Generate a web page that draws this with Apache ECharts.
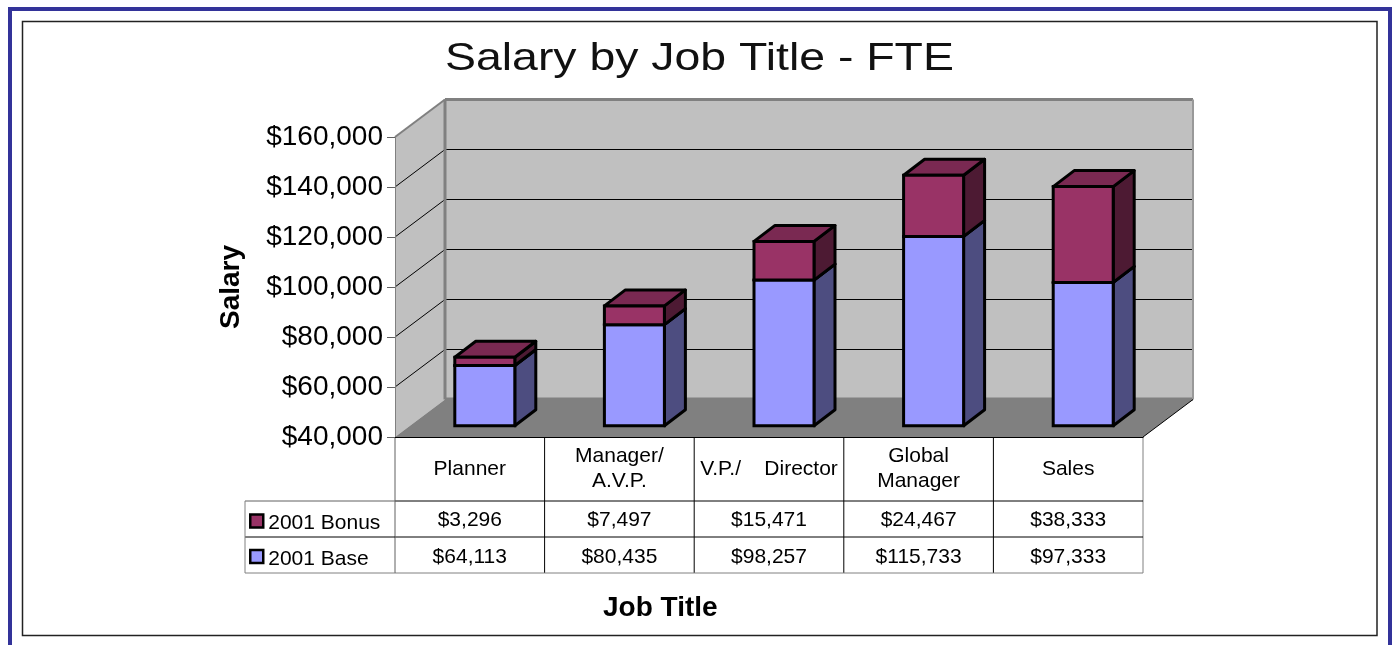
<!DOCTYPE html>
<html>
<head>
<meta charset="utf-8">
<style>html,body{margin:0;padding:0;background:#fff;overflow:hidden}#c{width:1392px;height:645px}</style>
<script src="https://cdn.jsdelivr.net/npm/echarts@6/dist/echarts.min.js"></script>
</head>
<body>
<div id="c"></div>
<script>
const titleText = 'Salary by Job Title - FTE';
const categories = ['Planner', 'Manager/\nA.V.P.', 'V.P./    Director', 'Global\nManager', 'Sales'];
const bonus2001 = [3296, 7497, 15471, 24467, 38333];
const base2001 = [64113, 80435, 98257, 115733, 97333];
const yTicks = [40000, 60000, 80000, 100000, 120000, 140000, 160000];

const FONT = '"Liberation Sans", Arial, sans-serif';
const money = v => '$' + v.toLocaleString('en-US');
const chart = echarts.init(document.getElementById('c'), null, {renderer: 'canvas'});

const DEPTH = [50, -37.5];      // full floor depth
const BAR_OFF = [15, -11.25];   // bar front relative to the axis plane
const BAR_DEPTH = [21, -16];
const BAR_W = 60;

function poly(points, fill, stroke, lw, join) {
  return {type: 'polygon', shape: {points}, style: {fill, stroke: stroke || null, lineWidth: lw || 0, lineJoin: join || 'round'}};
}
function line(a, b, stroke, lw) {
  return {type: 'line', shape: {x1: a[0], y1: a[1], x2: b[0], y2: b[1]}, style: {stroke, lineWidth: lw}};
}

function renderFrame(params, api) {
  const lo = yTicks[0], hi = yTicks[yTicks.length - 1];
  const half = api.size([1, 0])[0] / 2;
  const xl = api.coord([0, lo])[0] - half;
  const xr = api.coord([categories.length - 1, lo])[0] + half;
  const yb = api.coord([0, lo])[1], yt = api.coord([0, hi])[1];
  const d = DEPTH, kids = [];
  kids.push(poly([[xl, yb], [xl, yt], [xl + d[0], yt + d[1]], [xl + d[0], yb + d[1]]], '#C0C0C0'));
  kids.push(poly([[xl + d[0], yb + d[1]], [xl + d[0], yt + d[1]], [xr + d[0], yt + d[1]], [xr + d[0], yb + d[1]]], '#C0C0C0'));
  kids.push(poly([[xl, yb], [xl + d[0], yb + d[1]], [xr + d[0], yb + d[1]], [xr, yb]], '#808080'));
  yTicks.slice(1, -1).forEach(t => {
    const y = api.coord([0, t])[1];
    kids.push(line([xl, y], [xl + d[0], y + d[1]], '#000', 1));
    kids.push(line([xl + d[0], y + d[1]], [xr + d[0], y + d[1]], '#000', 1));
  });
  kids.push(line([xl, yt], [xl + d[0], yt + d[1]], '#808080', 2));
  kids.push(line([xl + d[0], yt + d[1]], [xr + d[0], yt + d[1]], '#808080', 3));
  kids.push(line([xl + d[0], yt + d[1]], [xl + d[0], yb + d[1]], '#808080', 3));
  kids.push(line([xl + d[0], yb + d[1] - 0.5], [xr + d[0], yb + d[1] - 0.5], '#808080', 3));
  kids.push(line([xr + d[0], yt + d[1]], [xr + d[0], yb + d[1]], '#999', 2));
  kids.push(line([xr, yb], [xr + d[0], yb + d[1]], '#000', 1));
  return {type: 'group', children: kids};
}

function barRenderer(front, side, top) {
  return function (params, api) {
    const i = api.value(0), v0 = api.value(1), v1 = api.value(2);
    const p0 = api.coord([i, v0]), p1 = api.coord([i, v1]);
    const x0 = p0[0] + BAR_OFF[0] - BAR_W / 2, x1 = x0 + BAR_W;
    const yB = p0[1] + BAR_OFF[1], yT = p1[1] + BAR_OFF[1];
    const dx = BAR_DEPTH[0], dy = BAR_DEPTH[1];
    const kids = [
      poly([[x1, yB], [x1 + dx, yB + dy], [x1 + dx, yT + dy], [x1, yT]], side, '#000', 3),
      poly([[x0, yT], [x1, yT], [x1 + dx, yT + dy], [x0 + dx, yT + dy]], top, '#000', 3),
      poly([[x0, yB], [x1, yB], [x1, yT], [x0, yT]], front, '#000', 3, 'miter')
    ];
    return {type: 'group', children: kids};
  };
}

const ROW_TOP = 501, ROW_MID = 537, ROW_BOT = 573, LEG_LEFT = 245;
function renderTable(params, api) {
  const i = api.value(0);
  const c = api.coord([i, yTicks[0]]);
  const w = api.size([1, 0])[0];
  const yAx = c[1], xr = c[0] + w / 2, xl = c[0] - w / 2;
  const last = i === categories.length - 1;
  const kids = [
    line([xr, yAx], [xr, ROW_BOT], last ? '#808080' : '#000', 1),
    line([xl, ROW_TOP], [xr, ROW_TOP], '#000', 1),
    line([xl, ROW_MID], [xr, ROW_MID], '#000', 1),
    line([xl, ROW_BOT], [xr, ROW_BOT], '#808080', 1),
    {type: 'text', style: {text: money(api.value(1)), x: c[0], y: 520.5, align: 'center', verticalAlign: 'middle', font: '21px ' + FONT, fill: '#000'}},
    {type: 'text', style: {text: money(api.value(2)), x: c[0], y: 557, align: 'center', verticalAlign: 'middle', font: '21px ' + FONT, fill: '#000'}}
  ];
  if (i === 0) {
    kids.push(line([xl, yAx], [xl, ROW_BOT], '#606060', 1));
    kids.push(line([LEG_LEFT, ROW_TOP], [xl, ROW_TOP], '#606060', 1));
    kids.push(line([LEG_LEFT, ROW_MID], [xl, ROW_MID], '#000', 1));
    kids.push(line([LEG_LEFT, ROW_BOT], [xl, ROW_BOT], '#808080', 1));
    kids.push(line([LEG_LEFT, ROW_TOP], [LEG_LEFT, ROW_BOT], '#808080', 1));
  }
  return {type: 'group', children: kids};
}

const baseData = categories.map((_, i) => [i, yTicks[0], base2001[i]]);
const bonusData = categories.map((_, i) => [i, base2001[i], base2001[i] + bonus2001[i]]);
const tableData = categories.map((_, i) => [i, bonus2001[i], base2001[i]]);

chart.setOption({
  animation: false,
  backgroundColor: '#fff',
  graphic: [
    {type: 'rect', z: -10, shape: {x: 10, y: 9, width: 1380, height: 700}, style: {fill: null, stroke: '#333399', lineWidth: 4}},
    {type: 'rect', z: -10, shape: {x: 22.5, y: 21.5, width: 1354.5, height: 614}, style: {fill: null, stroke: '#222', lineWidth: 1.5}},
    {type: 'text', x: 445, y: 59, scaleX: 1.19, style: {text: titleText, font: '39px ' + FONT, fill: '#111', align: 'left', verticalAlign: 'middle'}}
  ],
  title: [
    {text: 'Job Title', left: 603, top: 594, padding: 0, textStyle: {fontFamily: FONT, fontSize: 28, fontWeight: 'bold', color: '#000'}}
  ],
  legend: {
    orient: 'vertical', left: 249, top: 513, itemGap: 14.5, itemWidth: 13, itemHeight: 13, icon: 'rect',
    selectedMode: false, padding: 0,
    data: ['2001 Bonus', '2001 Base'],
    formatter: name => '{a|' + name + '}',
    textStyle: {color: '#000', rich: {a: {fontFamily: FONT, fontSize: 21, color: '#000', padding: [5, 0, 0, 0]}}},
    itemStyle: {borderColor: '#000', borderWidth: 2.5}
  },
  grid: {left: 395, width: 748, top: 137, height: 300, containLabel: false},
  xAxis: {
    type: 'category', data: categories, z: 5,
    axisTick: {show: false},
    axisLine: {lineStyle: {color: '#000', width: 1}},
    axisLabel: {interval: 0, margin: 32, verticalAlign: 'middle', lineHeight: 25, fontFamily: FONT, fontSize: 21, color: '#000'}
  },
  yAxis: {
    type: 'value', min: yTicks[0], max: yTicks[yTicks.length - 1], interval: 20000, z: 5,
    name: 'Salary', nameLocation: 'middle', nameGap: 150, nameRotate: 90,
    nameTextStyle: {fontFamily: FONT, fontSize: 28, fontWeight: 'bold', color: '#000'},
    axisLine: {show: true, lineStyle: {color: '#808080', width: 1}},
    axisTick: {show: true, length: 8, lineStyle: {color: '#606060', width: 1}},
    axisLabel: {margin: 12, fontFamily: FONT, fontSize: 28, color: '#000', padding: [4, 0, 0, 0], formatter: v => money(v)},
    splitLine: {show: false}
  },
  series: [
    {type: 'custom', name: 'frame', data: [[0, yTicks[0]]], renderItem: renderFrame, clip: false, z: 1, silent: true, encode: {x: 0, y: 1}},
    {type: 'custom', name: '2001 Base', data: baseData, renderItem: barRenderer('#9999FF', '#4D4D80', '#7A7ACC'), clip: false, z: 2, itemStyle: {color: '#9999FF'}, encode: {x: 0, y: 2}},
    {type: 'custom', name: '2001 Bonus', data: bonusData, renderItem: barRenderer('#993366', '#4D1A33', '#7A2952'), clip: false, z: 3, itemStyle: {color: '#993366'}, encode: {x: 0, y: 2}},
    {type: 'custom', name: 'table', data: tableData, renderItem: renderTable, clip: false, z: 4, silent: true, encode: {x: 0}}
  ]
});
</script>
</body>
</html>
